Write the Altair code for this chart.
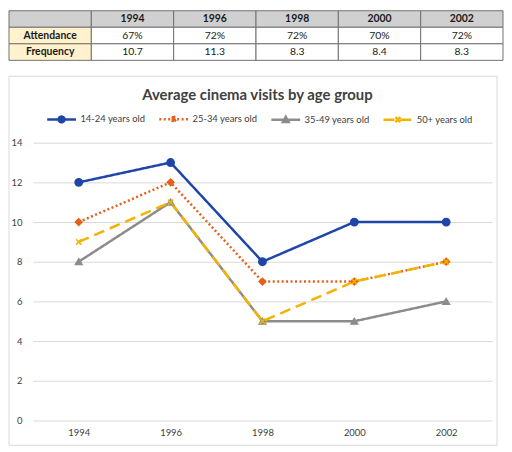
import altair as alt
import pandas as pd

# --- data ------------------------------------------------------------------
years = ["1994", "1996", "1998", "2000", "2002"]
attendance = ["67%", "72%", "72%", "70%", "72%"]
frequency = ["10.7", "11.3", "8.3", "8.4", "8.3"]

series = ["14-24 years old", "25-34 years old", "35-49 years old", "50+ years old"]
visits_14_24 = [12, 13, 8, 10, 10]
visits_25_34 = [10, 12, 7, 7, 8]
visits_35_49 = [8, 11, 5, 5, 6]
visits_50_plus = [9, 11, 5, 7, 8]

# --- styles -----------------------------------------------------------------
FONT = "Lato"
TEXT = "#404040"
colours = ["#1f45a8", "#e5601a", "#8c8c8c", "#f2b400"]
dashes = [[1, 0], [2, 2.5], [1, 0], [11, 6]]
markers = [("circle", 55), ("diamond", 45), ("triangle-up", 45), ("M-1,-1L1,1M-1,1L1,-1", 30)]
# legend symbols: a line stub with the marker in the middle (unit box -1..1)
legend_paths = [
    "M-1,0H1M0.2,0A0.2,0.2,0,1,1,-0.2,0A0.2,0.2,0,1,1,0.2,0Z",
    "M-1,0H1M0,-0.22L0.17,0L0,0.22L-0.17,0Z",
    "M-1,0H1M0,-0.2L0.2,0.16L-0.2,0.16Z",
    "M-1,0H1M-0.17,-0.17L0.17,0.17M-0.17,0.17L0.17,-0.17",
]

# --- table ------------------------------------------------------------------
cols = ["label"] + years
rows = ["head", "Attendance", "Frequency"]
cells = [{"row": "head", "col": "label", "text": "", "kind": "head"}]
cells += [{"row": "head", "col": y, "text": y, "kind": "head"} for y in years]
for name, vals in (("Attendance", attendance), ("Frequency", frequency)):
    cells.append({"row": name, "col": "label", "text": name, "kind": "label"})
    cells += [{"row": name, "col": y, "text": v, "kind": "body"} for y, v in zip(years, vals)]
table_df = pd.DataFrame(cells)

# the table is wider than the plot below it: stretch its band range past the view
tbase = alt.Chart(table_df).encode(
    x=alt.X("col:N", sort=cols, axis=None,
            scale=alt.Scale(range=[-24, 474], paddingInner=0, paddingOuter=0)),
    y=alt.Y("row:N", sort=rows, axis=None, scale=alt.Scale(paddingInner=0, paddingOuter=0)),
)
trect = tbase.mark_rect(stroke="#707070", strokeWidth=1).encode(
    fill=alt.Fill("kind:N", legend=None,
                  scale=alt.Scale(domain=["head", "label", "body"],
                                  range=["#d0d0d0", "#fff2cc", "#ffffff"])),
)
tbold = tbase.mark_text(font=FONT, fontSize=10.5, fontWeight="bold", color="#1a1a1a").encode(
    text="text:N").transform_filter("datum.kind != 'body'")
tplain = tbase.mark_text(font=FONT, fontSize=10.5, color="#1a1a1a").encode(
    text="text:N").transform_filter("datum.kind == 'body'")
table = (trect + tbold + tplain).properties(width=463, height=50)

# --- line chart ---------------------------------------------------------------
all_visits = [visits_14_24, visits_25_34, visits_35_49, visits_50_plus]
long = pd.DataFrame([{"year": y, "series": s, "visits": v}
                     for s, vals in zip(series, all_visits) for y, v in zip(years, vals)])

xs = alt.X("year:O", scale=alt.Scale(type="point", padding=0.5),
           axis=alt.Axis(title=None, labelAngle=0, domain=False, ticks=False, grid=False,
                         labelPadding=7, labelFont=FONT, labelFontSize=9.5, labelColor=TEXT))
ys = alt.Y("visits:Q", scale=alt.Scale(domain=[0, 14]),
           axis=alt.Axis(title=None, values=list(range(0, 15, 2)), domain=False, ticks=False,
                         tickSize=0, labelPadding=11, gridColor="#d9d9d9", labelFont=FONT,
                         labelFontSize=9.5, labelColor=TEXT))
colour_scale = alt.Scale(domain=series, range=colours)
dash_scale = alt.Scale(domain=series, range=dashes)

# chart-area border around title, legend and plot
frame = alt.Chart(pd.DataFrame({"f": [0]})).mark_rect(
    filled=False, stroke="#d9d9d9", strokeWidth=1).encode(
    x=alt.value(-24), x2=alt.value(468), y=alt.value(-67), y2=alt.value(305))

lines = alt.Chart(long).mark_line(strokeWidth=2.5).encode(
    x=xs, y=ys,
    color=alt.Color("series:N", scale=colour_scale, title=None),
    strokeDash=alt.StrokeDash("series:N", scale=dash_scale, title=None),
)

points = []
for s, col, (shape, size) in zip(series, colours, markers):
    points.append(alt.Chart(long).transform_filter(alt.datum.series == s).mark_point(
        shape=shape, size=size, filled=True, color=col, stroke=col, strokeWidth=1.5, opacity=1
    ).encode(x=xs, y=ys))

legend_holder = alt.Chart(long).transform_filter("false").mark_point(
    filled=True, size=841, strokeWidth=2.5, opacity=1).encode(
    x=xs, y=ys,
    color=alt.Color("series:N", scale=colour_scale, title=None),
    stroke=alt.Stroke("series:N", scale=alt.Scale(domain=series, range=colours), title=None),
    shape=alt.Shape("series:N", scale=alt.Scale(domain=series, range=legend_paths), title=None),
    strokeDash=alt.StrokeDash("series:N", scale=dash_scale, title=None),
)

plot = alt.layer(frame, lines, *points, legend_holder).properties(
    width=463, height=280,
    title=alt.TitleParams("Average cinema visits by age group", font=FONT, fontSize=15,
                          fontWeight="bold", color=TEXT, anchor="middle", baseline="alphabetic",
                          offset=-25, dy=14, dx=-5),
)

chart = alt.vconcat(table, plot, spacing=14).resolve_legend(
    color="independent", stroke="independent", shape="independent", strokeDash="independent"
).properties(
    padding={"left": 0, "top": 0, "right": 0, "bottom": 0},
    autosize=alt.AutoSizeParams(type="pad"),
).configure_view(
    strokeWidth=0
).configure_legend(
    orient="none", legendX=13, legendY=-40, direction="horizontal", columns=4,
    columnPadding=8, symbolSize=841, symbolStrokeWidth=2.5, labelFont=FONT,
    labelFontSize=9.5, labelColor=TEXT, labelOffset=3, padding=0,
)

chart.save("out.html", embed_options={"renderer": "svg", "actions": False})
